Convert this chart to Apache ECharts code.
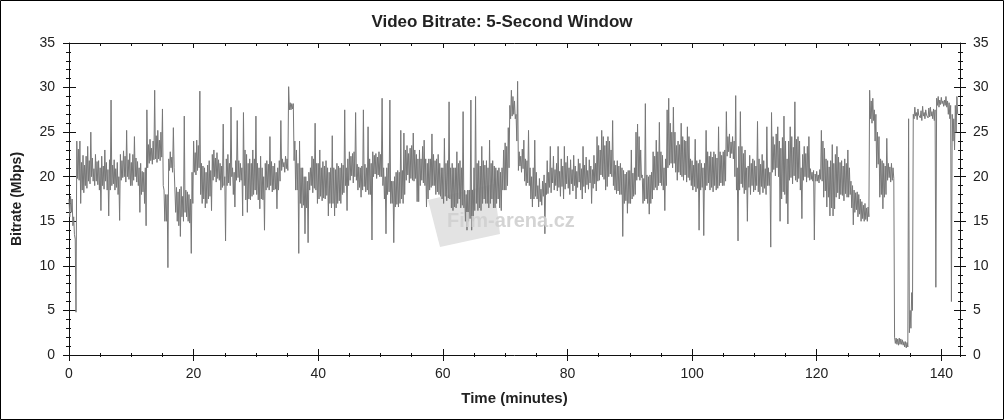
<!DOCTYPE html>
<html>
<head>
<meta charset="utf-8">
<script src="https://cdn.jsdelivr.net/npm/echarts@6/dist/echarts.min.js"></script>
<style>
html,body{margin:0;padding:0;background:#fff;}
#chart{width:1004px;height:420px;}
</style>
</head>
<body>
<div id="chart"></div>
<script>
// ---- data ----
const titleText = 'Video Bitrate: 5-Second Window';
const xAxisName = 'Time (minutes)';
const yAxisName = 'Bitrate (Mbps)';
const watermarkText = 'Film-arena.cz';
const STEP_MIN = 0.25;            // one entry per 15 s of film
const xMin = 0, xMax = 143;
const xMajor = 20, xMinor = 5;
const yMin = 0, yMax = 35;
const yMajor = 5;

// top of the dense trace within each 15 s step (Mbps)
const bandHigh = [
17.5,17.8,17.5,15.5,13,24,23.1,24,21.6,22.4,21.3,22.3,23.4,21.8,25,22.1,20.9,22.5,21.7,21.8,
21,22.3,21.2,23,21.6,20.8,21.9,28.6,21.3,21.9,20.9,21.6,20,22.5,21.8,22.9,22.3,25.2,21.9,22.6,
21.6,22.5,24.5,22.1,21.7,21,21.5,20.6,20.5,21,27.5,23.6,24.2,23.2,24,29.7,24.6,25.2,24.1,25,
27.6,18.5,18,18,22,22.8,22.2,25.5,21,18.8,18.3,18.6,18.9,17.8,26.8,18.5,18.3,18,17.5,20.5,
24,22.7,24.1,23.5,29.6,21.5,21.2,21,20.5,21.3,21.8,20.7,22.5,23,22.1,22.7,21.9,21.5,21.2,25.9,
20,22,22.5,21.5,27.8,21,20.5,21.8,26.3,21.8,21.5,21,27.2,23,22.5,21.5,22,21.5,23,22,
26.8,21.5,21,22.3,21,20,21.5,21.8,21.4,24.5,21.7,21.2,21.5,20.5,21,21.8,26.3,22,21.6,22.3,
22,30.1,28.3,28.2,28.2,24,23,21.5,24,21,21,20,20,19.5,20.5,21,22.3,22,26,21.5,
21.5,23,21,21.7,21.2,21.8,21,20.5,21,24.6,21,20.8,21.5,21.2,21,21.5,21.3,27.5,21,22,
22.8,22.3,22.6,22.8,27.2,21.4,21.1,21,21.2,27.5,21.4,21,25.6,22,21.5,22.8,22.4,22.6,22.2,22.8,
22.5,28.8,21,20,21,21.5,28.6,19.5,19.5,20,20.5,20.7,20.5,25.2,20.7,24.9,23,23.5,22.6,23.2,
23.5,24.9,23,22.5,22,23,22,23.4,24.1,22,21.5,22,22,24.8,22.5,21.8,22,22.5,21.5,21,
21,24.3,21.5,21.8,28.4,21,21.5,21,21,22.8,21.5,21.8,21,27.3,18.5,18,18.5,18.5,28.6,18.5,
21,29,21.5,21.8,21.2,23.4,21.8,21.3,21.8,21,24.1,21.5,21.8,21.2,21,20.7,21,20.5,21,23,
23.8,23.4,25.5,28,29.7,29,28.5,27,30.7,22.8,22.3,23.1,24.1,22,21.8,25.2,21,20,21,24.1,
20.5,19,19.8,18.6,19.5,20.2,19.3,21.8,20.5,23.4,21,22.3,20.8,21.5,23.4,20.6,22,21.2,23.4,21.6,
22.3,21,21.9,20.8,22.4,21.2,20.6,22,21.5,20.9,23.4,21.3,22.2,20.7,21.9,21.2,20.8,22.4,21.5,24.5,
23.5,23,25.2,24.5,23.5,24,24.5,24,23,26.3,21.8,21.3,21.8,21.2,21.5,21,20.7,20.3,20.5,20.7,
20.7,23,20.4,21,25,25.9,24.5,23,20.2,19.8,28.2,20.2,20,20.2,20.5,22.8,22.3,24.1,22.8,26.1,
22.8,22.4,21,22,27.5,28.8,26,25,27.8,25,23.5,24,23.6,26,24.5,24.1,24,25.6,24.5,22,
21.8,21.3,24.2,21.8,21.5,21.9,21.5,21,21.5,25.2,22.8,22.3,22.8,22.2,22.8,22.5,22.1,25.6,22.8,22.4,
22.8,23,27.3,24.5,24.8,23.9,24.5,24,29.1,21,23.4,27.3,23.4,22.6,23,21,21.2,22.4,21.5,22,
21.8,21.2,26.2,22,21.4,22.5,21.8,20.9,25.6,21,20.5,27.2,24.5,23.6,24.8,25.6,24,23.2,24.4,26.8,
24,22,24,25.6,24.5,23.3,28.4,24.2,24.5,24,21,22.5,23.4,22.6,23.4,24.5,20.9,20.5,20.7,20.3,
20.6,20.2,20.8,25.2,24,23.2,22,21.8,21.1,21.8,23.6,21.5,22.5,23.4,22.2,21.6,21.8,21.2,22,21.5,
23,21,19.5,19,18.5,18.2,18.3,18,17.5,17.2,16.8,17,16.5,16.6,29.7,28.5,28.8,27.5,27,25,
24.5,22,21.8,21.5,21.2,24.3,21.5,21.1,21.5,21,2,1.9,1.8,1.9,1.8,1.7,1.5,1.5,1.4,26.5,
5,7,27,27.8,27.2,27.6,27.1,27.4,27.9,27.2,27.5,27.1,27.7,27.8,27.3,27.6,27.5,28.8,29,28.6,
28.9,28.5,28.6,29,28.5,28.3,28,27,26.5,28,29
];

// bottom of the dense trace within each 15 s step (Mbps)
const bandLow = [
15.5,16,14.5,13.5,4.8,19.8,19.6,17,18.5,18.2,19,18.7,19.5,19.2,20,19.5,19,19.5,19.1,18.5,
16.2,19,18.6,19.5,18.5,15.6,18.5,19,19.2,18.5,18.8,18,15.1,19.6,19.9,20,19.4,20,19.7,19,
19,19.6,20,19.4,19,16,18,18.3,17,14.5,21,21.5,21.8,21.4,21.9,22,21.6,22,21.8,22.2,
19,15,15,9.8,20.7,21,20.5,21,16,15,14.5,13.3,15.5,15,16,15.5,15,14.8,11.4,17,
20.5,20.2,20.7,21,18,17,17.5,16.5,17,17.5,17.8,16.2,19.6,20,19.4,19.8,19.6,18.5,18.8,19,
12.8,19,19.3,19,20,18,16.6,19.6,19.9,19.4,19.6,15.6,19,17.4,16,17.5,17.4,17.8,18,18.5,
18,17.4,16.4,17.5,17.4,14,18.5,18.8,18.5,19,18.3,18.5,18.6,16.4,18.5,19.5,20.7,21.1,20.5,20.9,
20.7,27.5,27.5,27.6,21.8,18.5,18.5,11.4,17,16.5,16.8,13.6,16.5,12.6,18.5,19,18.2,18.7,18.5,17,
17.5,17.8,17.3,17.6,17.5,17.9,15.6,17,16.5,17,15.6,16.5,17,17.3,17,18,18.2,19,16.2,19,
19.6,20.1,19.3,20,19.6,18.5,18.8,17.7,18.5,18.9,18.3,18.5,18,18,12.9,20,20.3,19.8,20.2,20,
20,19,17.5,13.6,18,18.3,17,17,12.6,16.6,16.9,16.6,17,17.5,17,18,19.6,20.2,19.3,19.8,
19.6,19.5,19.8,17.2,17.2,19,19.6,19.3,19,16.6,17.5,18.5,18.8,19,19,18,18.3,18,17.8,17.5,
17,17.8,17.3,17.6,17.5,16.5,16.2,16.6,16.5,17,17.5,16.5,16.8,16.5,15,14,15,15.3,14,15,
16.2,17,16.2,16.5,16.2,17,17.5,17,17,16.5,17,17.5,16.5,16.5,17,17.5,16.5,16.2,18.5,18.5,
18.5,19,21,26.5,26.8,27,26.5,24,20.7,21.2,20.5,20.9,19.5,19,19.3,19,17.5,16.6,17.5,17.8,
17.5,16.6,17.2,16.8,17.8,13.6,18,18.1,18.8,18.2,19.3,18.5,19,18.4,18.8,17.8,18.9,17.5,18.6,19.2,
18.7,18,19.2,18.4,19,17.5,18.8,19.4,18.5,17.5,18.9,18.2,19.1,18.6,19.3,17,18.7,19.2,18.4,19.5,
19.6,20.2,20,19.7,18.5,18.9,20,20.3,20,19,18.5,18.1,18.4,18,18,13.3,17,17.3,15.9,17,
17,17.5,17.8,18,19.6,20,19.6,19.9,17,17.3,17.5,17,15.8,17,17.5,18.5,18.8,18.5,19,19.3,
19,18.5,16.2,19,21,21.3,21.5,21,21.5,20.5,19.6,20.5,20.2,20,19.6,20.2,19.4,19.9,19.6,19,
18.5,18.9,18.3,18.7,14,18.5,18.8,13.4,18.5,19,19.3,18.5,18.8,18.3,19,18.5,18.7,19,19.3,19,
19,19.5,22.3,22.8,22.1,22.6,22,20,18.5,12.8,18.5,19.2,18.8,18.1,18.5,15,18.8,18,19,18.3,
18.5,19,18.3,18,18.9,18.2,18.7,18,19,19,12.1,20.5,20.8,20.1,21,20,15,17.5,18.3,18,
17,14.7,19.6,19.9,19.2,20.1,19.6,19.4,19.8,18.5,15.3,19.6,20,19.4,19.9,19.6,19.7,19.5,12.9,19.5,
19.5,19.3,19.7,19.5,17.7,18.4,16.6,17.7,15.6,16.5,15.6,16.4,17.7,18.2,17.5,18,17.9,17.3,18.1,17.7,
17.7,18,16.5,14.6,16,16.3,15.5,15.8,15,15.3,15,15.2,15,15.5,26.5,26,26.3,24,21,21.4,
17.7,18,16.4,17.7,18,19.6,19.9,19.4,19.6,19.8,1.3,1.2,1.1,1.2,1.2,1.1,0.9,0.8,0.9,2.5,
3,5,26.5,26.8,26.4,26.9,26.6,26.3,26.8,26.5,26.9,26.6,26.7,26.8,26.5,26.3,7.6,28,27.8,28.1,
28.2,27.9,28,27.8,27,26.5,6,24,23,25,27
];

// ---- chart ----
const seriesData = [];
bandHigh.forEach((hi, i) => {
  seriesData.push([i * STEP_MIN, hi]);
  seriesData.push([i * STEP_MIN + STEP_MIN / 2, bandLow[i]]);
});

const FONT = '"Liberation Sans", Arial, sans-serif';
const TXT = '#222';
const LINE = '#111';

function xAx(o) {
  return Object.assign({
    type: 'value', min: xMin, max: xMax, interval: xMajor, gridIndex: 0,
    position: 'bottom',
    axisLine: { show: false, onZero: false, lineStyle: { color: LINE } },
    axisTick: { show: true, length: 6, inside: false, lineStyle: { color: LINE } },
    axisLabel: { show: false },
    splitLine: { show: false }
  }, o);
}
function yAx(o) {
  return Object.assign({
    type: 'value', min: yMin, max: yMax, interval: yMajor, gridIndex: 0,
    position: 'left',
    axisLine: { show: false, onZero: false, lineStyle: { color: LINE } },
    axisTick: { show: true, length: 6, inside: false, lineStyle: { color: LINE } },
    minorTick: { show: true, splitNumber: 5, length: 3, lineStyle: { color: LINE } },
    axisLabel: { show: false },
    splitLine: { show: false }
  }, o);
}

const option = {
  animation: false,
  backgroundColor: '#fff',
  title: {
    text: titleText, left: 'center', top: 9,
    textStyle: { fontFamily: FONT, fontSize: 17, fontWeight: 'bold', color: TXT }
  },
  grid: { left: 69, top: 43, width: 891, height: 312, containLabel: false },
  xAxis: [
    xAx({
      axisLine: { show: true, onZero: false, lineStyle: { color: LINE } },
      axisLabel: { show: true, fontFamily: FONT, fontSize: 14, color: TXT, margin: 12, showMaxLabel: false },
      name: xAxisName, nameLocation: 'middle', nameGap: 36,
      nameTextStyle: { fontFamily: FONT, fontSize: 15, fontWeight: 'bold', color: TXT }
    }),
    xAx({ axisTick: { show: true, length: 6, inside: true, lineStyle: { color: LINE } } }),
    xAx({ interval: xMinor, axisTick: { show: true, length: 2, inside: false, lineStyle: { color: LINE } } }),
    xAx({ interval: xMinor, axisTick: { show: true, length: 2, inside: true, lineStyle: { color: LINE } } }),
    xAx({ position: 'top',
      axisLine: { show: true, onZero: false, lineStyle: { color: LINE } },
      axisTick: { show: true, length: 5, inside: true, lineStyle: { color: LINE } } }),
    xAx({ position: 'top', interval: xMinor,
      axisTick: { show: true, length: 3, inside: true, lineStyle: { color: LINE } } })
  ],
  yAxis: [
    yAx({
      axisLine: { show: true, onZero: false, lineStyle: { color: LINE } },
      axisLabel: { show: true, fontFamily: FONT, fontSize: 14, color: TXT, margin: 14 },
      name: yAxisName, nameLocation: 'middle', nameGap: 45, nameRotate: 90,
      nameTextStyle: { fontFamily: FONT, fontSize: 14, fontWeight: 'bold', color: TXT }
    }),
    yAx({ axisTick: { show: true, length: 7, inside: true, lineStyle: { color: LINE } },
      minorTick: { show: true, splitNumber: 5, length: 2, lineStyle: { color: LINE } } }),
    yAx({ position: 'right',
      axisLine: { show: true, onZero: false, lineStyle: { color: LINE } },
      axisLabel: { show: true, fontFamily: FONT, fontSize: 14, color: TXT, margin: 13 } }),
    yAx({ position: 'right',
      axisTick: { show: true, length: 6, inside: true, lineStyle: { color: LINE } },
      minorTick: { show: true, splitNumber: 5, length: 2, lineStyle: { color: LINE } } })
  ],
  graphic: [
    { type: 'rect', silent: true, z: 100,
      shape: { x: 0.5, y: 0.5, width: 1003, height: 419 },
      style: { fill: 'none', stroke: '#000', lineWidth: 1 } },
    { type: 'polygon', silent: true, z: 0,
      shape: { points: [[428, 200], [494, 184], [500, 234], [440, 247]] },
      style: { fill: '#e3e3e3' } },
    { type: 'text', silent: true, z: 50, left: 447, top: 211,
      style: { text: watermarkText, fontFamily: FONT, fontSize: 20, fontWeight: 'bold',
               fill: 'rgba(208,208,208,0.92)' } }
  ],
  series: [{
    type: 'line', xAxisIndex: 0, yAxisIndex: 0,
    data: seriesData, showSymbol: false, symbol: 'none', sampling: null,
    lineStyle: { color: '#777777', width: 1 }, z: 5
  }]
};

const chart = echarts.init(document.getElementById('chart'), null, { renderer: 'canvas' });
chart.setOption(option);
</script>
</body>
</html>
